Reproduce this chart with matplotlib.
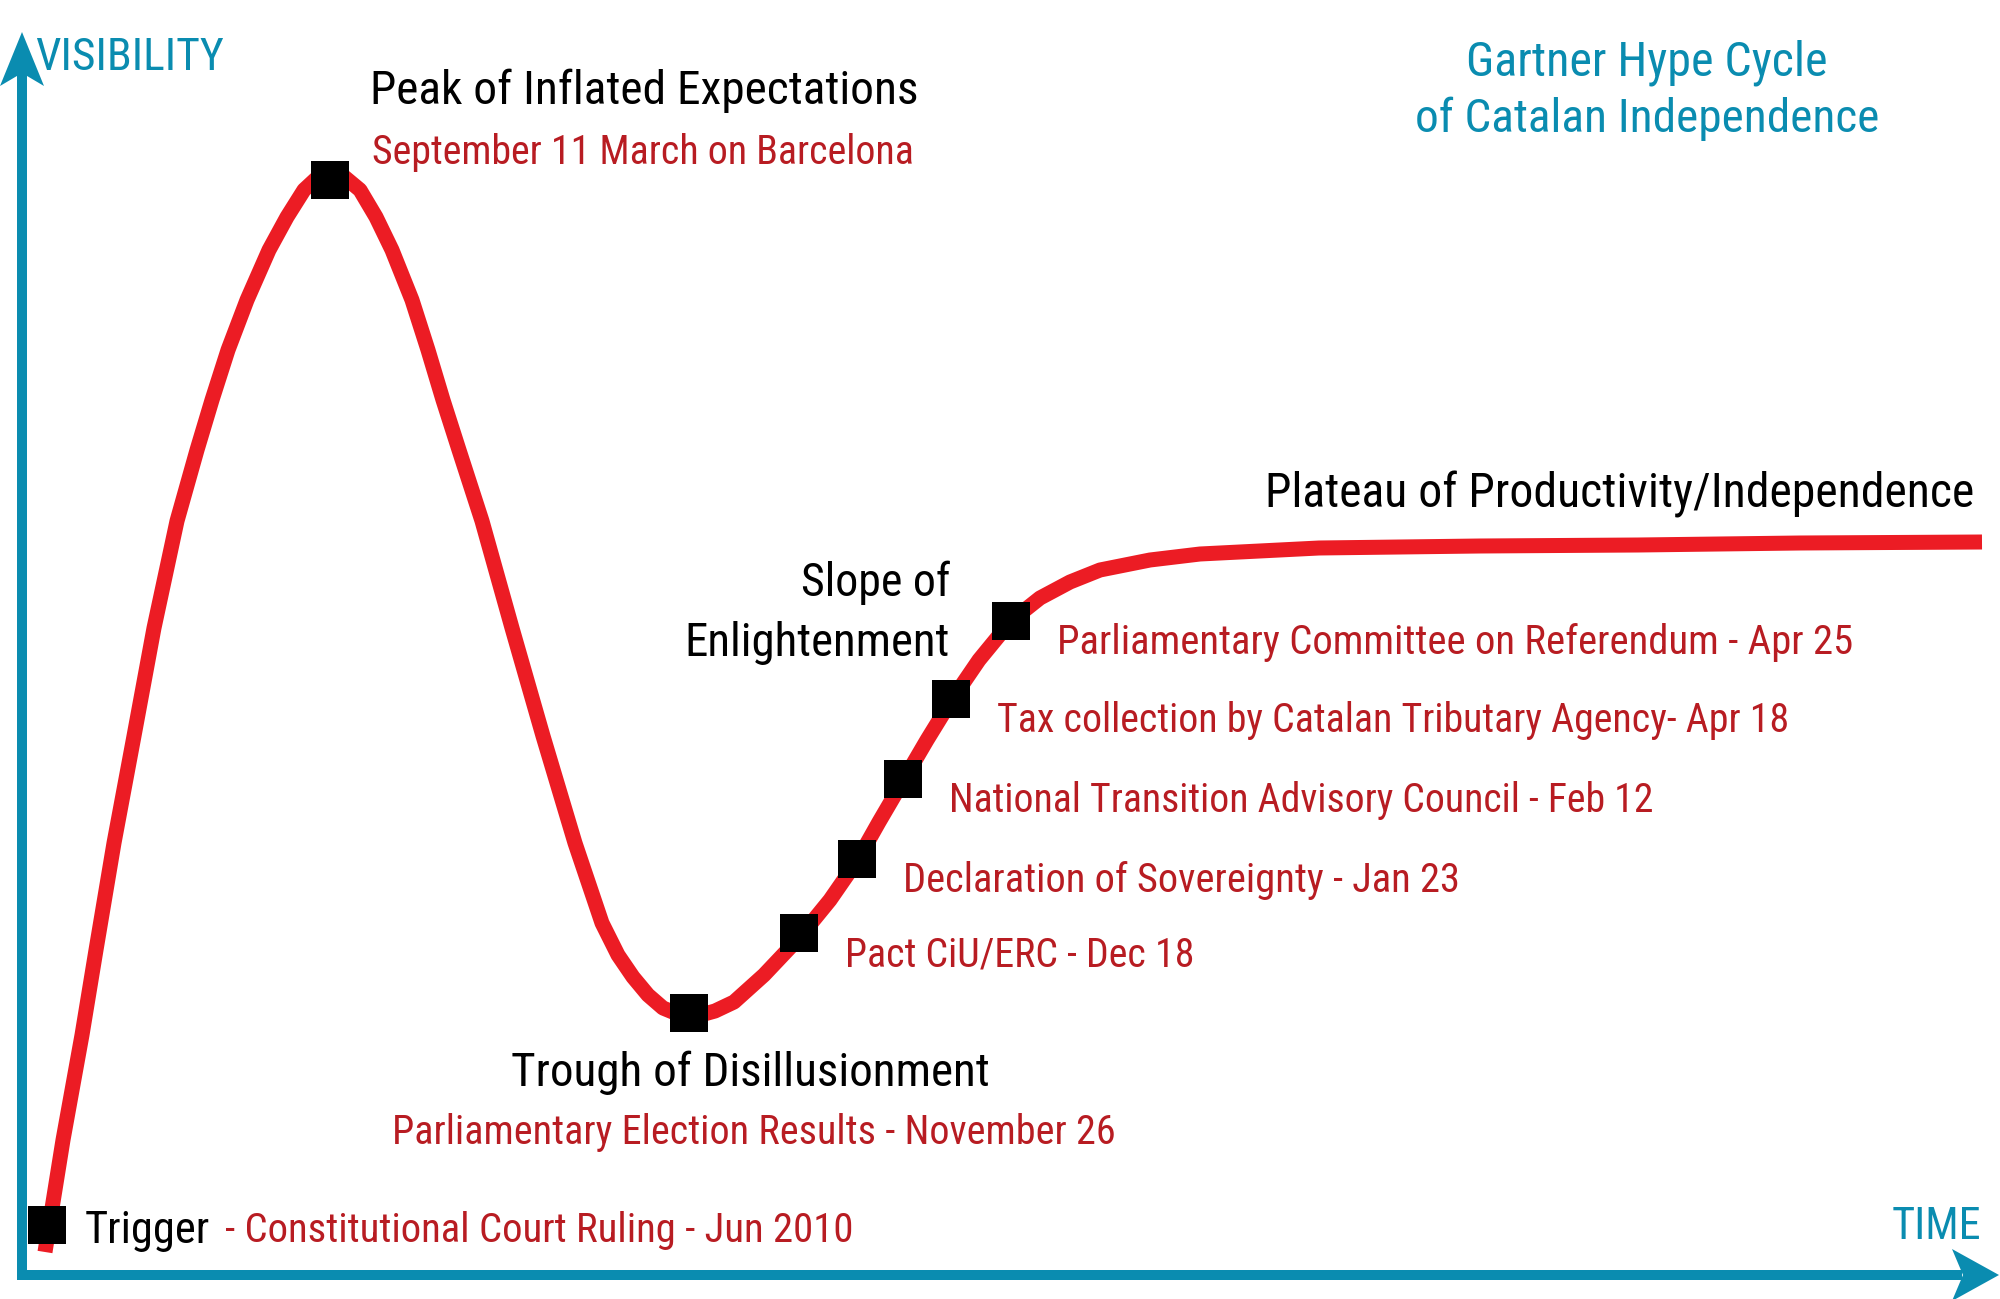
"""
Gartner hype cycle of Catalan independence, redrawn with matplotlib.
Coordinates are in picture pixels (time to the right, visibility downwards on screen).
"""

import matplotlib
matplotlib.use("Agg")
import matplotlib.pyplot as plt
from matplotlib.patches import Polygon

plt.rcParams["font.family"] = ["Liberation Sans Narrow", "Roboto Condensed", "DejaVu Sans"]

RED_LINE = "#ec1c24"
RED_TEXT = "#b81c22"
TEAL = "#0a8cb0"

# hype curve (time, screen height)
curve_t = [45, 63, 82, 96, 114, 134, 154, 177, 197, 212, 228, 247, 269, 287, 304, 318,
           330, 342, 360, 376, 392, 412, 428, 443, 459, 482, 512, 543, 575, 602, 618,
           633, 648, 663, 680, 697, 715, 734, 764, 799, 830, 857, 879, 903, 927, 951,
           979, 1011, 1040, 1070, 1100, 1150, 1200, 1319, 1480, 1638, 1800, 1982]
curve_v = [1252, 1140, 1035, 950, 843, 736, 628, 521, 450, 400, 350, 300, 250, 217, 190, 177,
           172, 175, 190, 217, 250, 300, 350, 400, 450, 521, 628, 736, 843, 923, 955,
           977, 995, 1008, 1015, 1016, 1011, 1002, 975, 938, 900, 861, 822, 781, 740, 701,
           660, 621, 598, 582, 570, 560, 554, 548, 546, 545, 543, 542]

# milestones on the curve
milestone_t = [47, 330, 689, 799, 857, 903, 951, 1011]
milestone_v = [1225, 180, 1013, 933, 859, 779, 699, 621]

slope_labels = [
    "Pact CiU/ERC - Dec 18",
    "Declaration of Sovereignty - Jan 23",
    "National Transition Advisory Council - Feb 12",
    "Tax collection by Catalan Tributary Agency- Apr 18",
    "Parliamentary Committee on Referendum - Apr 25",
]
slope_widths = [339, 542, 684, 769, 774]

phase_names = ["Trigger", "Peak of Inflated Expectations", "Trough of Disillusionment",
               "Slope of\nEnlightenment", "Plateau of Productivity/Independence"]
phase_events = ["- Constitutional Court Ruling - Jun 2010", "September 11 March on Barcelona",
                "Parliamentary Election Results - November 26"]

fig = plt.figure(figsize=(20, 12.99), dpi=100)
ax = fig.add_axes([0, 0, 1, 1])
ax.set_xlim(0, 2000)
ax.set_ylim(1299, 0)
ax.axis("off")
renderer = fig.canvas.get_renderer()


def fit_text(x, y, s, width_px, cap_px, color="black", ha="left", slack=1.03):
    """Place text sized by cap height, shrunk when wider than the original."""
    size = cap_px / 0.72 * 72 / 100
    t = ax.text(x, y, s, fontsize=size, color=color, ha=ha, va="baseline", zorder=5)
    w = t.get_window_extent(renderer).width
    if w > width_px * slack:
        t.set_fontsize(size * width_px * slack / w)
    return t


# axes with arrows
ax.plot([17, 1962], [1275, 1275], color=TEAL, lw=7.2, solid_capstyle="butt", zorder=2)
ax.plot([22, 22], [1280, 72], color=TEAL, lw=7.2, solid_capstyle="butt", zorder=2)
ax.add_patch(Polygon([(1999, 1275), (1952, 1249), (1963, 1275), (1952, 1301)],
                     closed=True, color=TEAL, lw=0, zorder=2))
ax.add_patch(Polygon([(22, 32), (0, 86), (22, 73), (44, 86)],
                     closed=True, color=TEAL, lw=0, zorder=2))

# curve and milestones
ax.plot(curve_t, curve_v, color=RED_LINE, lw=10.8, solid_capstyle="butt",
        solid_joinstyle="round", zorder=3)
ax.plot(milestone_t, milestone_v, ls="none", marker="s", ms=27.4, color="black",
        markeredgewidth=0, zorder=4)

# axis titles and chart title
fit_text(35, 70, "VISIBILITY", 183, 45, TEAL)
fit_text(1981, 1239, "TIME", 87, 46, TEAL, ha="right")
fit_text(1647, 75, "Gartner Hype Cycle", 351, 43, TEAL, ha="center")
fit_text(1647, 132, "of Catalan Independence", 451, 43, TEAL, ha="center")

# phase names and key events
fit_text(85, 1243, phase_names[0], 125, 45, slack=1.0)
fit_text(225, 1242, phase_events[0], 611, 37, RED_TEXT)
fit_text(370, 104, phase_names[1], 532, 46)
fit_text(372, 164, phase_events[1], 527, 37, RED_TEXT)
fit_text(511, 1086, phase_names[2], 465, 46)
fit_text(392, 1144, phase_events[2], 701, 36, RED_TEXT)
slope_lines = phase_names[3].split("\n")
fit_text(950, 596, slope_lines[0], 145, 43, ha="right")
fit_text(950, 656, slope_lines[1], 258, 43, ha="right")
fit_text(1974, 507, phase_names[4], 690, 43, ha="right")

# events along the slope of enlightenment
for t_, v_, label, w in zip(milestone_t[3:], milestone_v[3:], slope_labels, slope_widths):
    fit_text(t_ + 46, v_ + 33, label, w, 36, RED_TEXT)

fig.savefig("out.png", dpi=100)
plt.close(fig)
